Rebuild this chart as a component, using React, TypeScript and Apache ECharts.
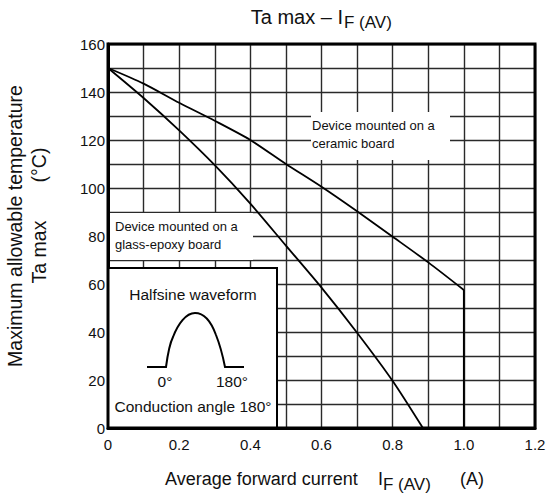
import React, { useEffect, useRef } from "react";
import * as echarts from "echarts";

const ceramicX = [0, 0.1, 0.2, 0.3, 0.4, 0.5, 0.6, 0.7, 0.8, 0.9, 1.0];
const ceramicY = [150, 143.5, 135.5, 128, 120, 110, 100.5, 90.3, 79.7, 69, 57.5];
const dropX = [1.0, 1.0];
const dropY = [57.5, 0];
const glassX = [0, 0.1, 0.2, 0.3, 0.4, 0.5, 0.6, 0.7, 0.8, 0.885];
const glassY = [150, 137.5, 124, 109.5, 93.5, 76, 58.5, 39.7, 19.6, 0];
const xTickValues = [0, 0.2, 0.4, 0.6, 0.8, 1.0, 1.2];
const xTickLabels = ["0", "0.2", "0.4", "0.6", "0.8", "1.0", "1.2"];
const yTickValues = [0, 20, 40, 60, 80, 100, 120, 140, 160];
const yTickLabels = ["0", "20", "40", "60", "80", "100", "120", "140", "160"];

const FONT = "'Liberation Sans', Arial, sans-serif";
const WAVE_D =
  "M147 367 L166 367 C168 352 170 343 173 337 C178 324 186 313 195 313 C205 313 212 324 216 335 C220 345 223 357 225 367 L244 367";

let registered = false;

export default function App() {
  const ref = useRef<HTMLDivElement>(null);
  useEffect(() => {
    if (!registered) {
      echarts.graphic.registerShape("wave", echarts.graphic.extendPath(WAVE_D, {}));
      registered = true;
    }
    const chart = echarts.init(ref.current!, undefined, { renderer: "svg" });
    const txt = (x: number, y: number, text: string, size: number, align = "left", extra: any = {}) => ({
      type: "text",
      x,
      y,
      z: 20,
      style: {
        text,
        font: `${size}px ${FONT}`,
        fill: "#111",
        textAlign: align,
        textVerticalAlign: "middle",
      },
      ...extra,
    });
    const lineStyle = { color: "#000", width: 1.8 };
    const gridLine = { show: true, lineStyle: { color: "#2a2a2a", width: 1.4, type: "solid" } };
    const option: any = {
      animation: false,
      grid: { left: 108, right: 15, top: 44, bottom: 74 },
      xAxis: {
        type: "value",
        min: 0,
        max: 1.2,
        interval: 0.1,
        axisLine: { show: true, lineStyle: { color: "#000", width: 3 } },
        axisTick: { show: false },
        splitLine: gridLine,
        axisLabel: {
          margin: 9,
          color: "#111",
          fontSize: 15,
          fontFamily: FONT,
          formatter: (v: number) => {
            const i = xTickValues.findIndex((t) => Math.abs(t - v) < 1e-6);
            return i >= 0 ? xTickLabels[i] : "";
          },
        },
      },
      yAxis: {
        type: "value",
        min: 0,
        max: 160,
        interval: 10,
        axisLine: { show: true, lineStyle: { color: "#000", width: 3 } },
        axisTick: { show: false },
        splitLine: gridLine,
        axisLabel: {
          margin: 3,
          color: "#111",
          fontSize: 15,
          fontFamily: FONT,
          formatter: (v: number) => {
            const i = yTickValues.findIndex((t) => Math.abs(t - v) < 1e-6);
            return i >= 0 ? yTickLabels[i] : "";
          },
        },
      },
      series: [
        {
          type: "line",
          name: "ceramic",
          data: ceramicX.map((x, i) => [x, ceramicY[i]]),
          showSymbol: false,
          smooth: 0.25,
          lineStyle,
          z: 30,
        },
        {
          type: "line",
          name: "ceramic-limit",
          data: dropX.map((x, i) => [x, dropY[i]]),
          showSymbol: false,
          lineStyle,
          z: 30,
        },
        {
          type: "line",
          name: "glass",
          data: glassX.map((x, i) => [x, glassY[i]]),
          showSymbol: false,
          smooth: 0.25,
          lineStyle,
          z: 30,
        },
      ],
      graphic: [
        {
          type: "polygon",
          z: 15,
          shape: {
            points: [
              [108, 44],
              [535, 44],
              [535, 428],
              [108, 428],
            ],
          },
          style: { fill: "none", stroke: "#000", lineWidth: 3 },
        },
        { type: "rect", z: 10, shape: { x: 311, y: 112, width: 139, height: 48 }, style: { fill: "#fff" } },
        { type: "rect", z: 10, shape: { x: 110, y: 213, width: 143, height: 47 }, style: { fill: "#fff" } },
        {
          type: "rect",
          z: 12,
          shape: { x: 108, y: 268, width: 169, height: 160 },
          style: { fill: "#fff", stroke: "#000", lineWidth: 2 },
        },
        txt(312, 125, "Device mounted on a", 13),
        txt(312, 143, "ceramic board", 13),
        txt(115, 226, "Device mounted on a", 13),
        txt(115, 244, "glass-epoxy board", 13),
        txt(193, 294, "Halfsine waveform", 15.5, "center"),
        txt(165, 381, "0°", 15.5, "center"),
        txt(232, 381, "180°", 15.5, "center"),
        txt(193, 406, "Conduction angle 180°", 15.5, "center"),
        {
          type: "wave",
          z: 20,
          x: 0,
          y: 0,
          style: { stroke: "#000", fill: "none", lineWidth: 2 },
        },
        txt(343, 17, "Ta max – I", 20, "right"),
        txt(344, 22, "F (AV)", 17, "left"),
        txt(165, 479, "Average forward current", 18, "left"),
        txt(378, 479, "I", 18, "left"),
        txt(383, 484, "F (AV)", 17, "left"),
        txt(460, 479, "(A)", 18, "left"),
        txt(15, 226, "Maximum allowable temperature", 19.5, "center", { rotation: Math.PI / 2 }),
        txt(39, 252, "Ta max", 19.5, "center", { rotation: Math.PI / 2 }),
        txt(39, 165, "(°C)", 19.5, "center", { rotation: Math.PI / 2 }),
      ],
    };
    chart.setOption(option);
    return () => chart.dispose();
  }, []);
  return (
    <div
      ref={ref}
      style={{ position: "fixed", left: 0, top: 0, width: 550, height: 502, background: "#fff" }}
    />
  );
}
